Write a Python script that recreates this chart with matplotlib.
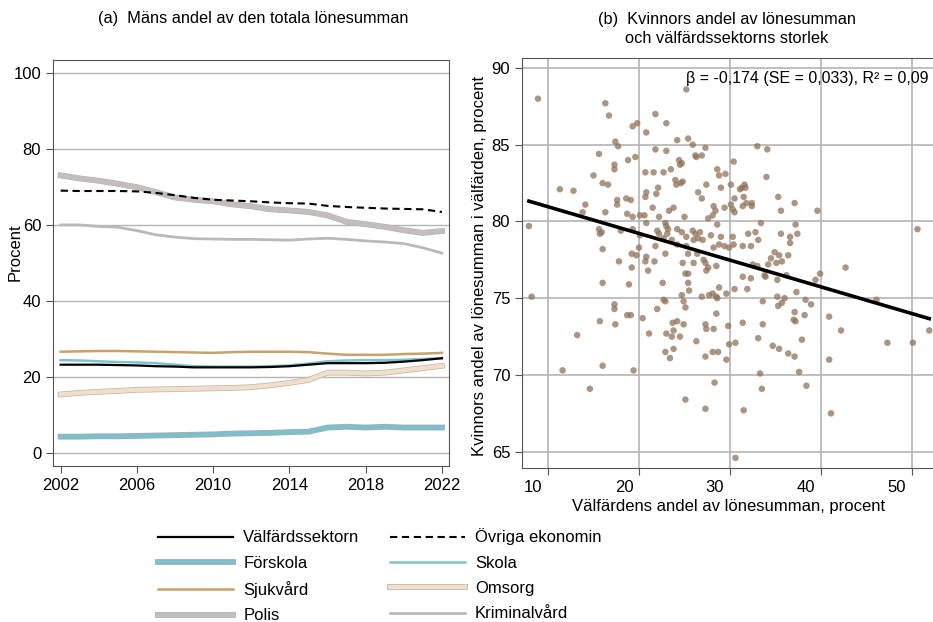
import matplotlib
matplotlib.use("Agg")
import matplotlib.pyplot as plt
import matplotlib.patheffects as pe
import matplotlib.transforms as mtransforms
import numpy as np

plt.rcParams['font.family'] = ['Liberation Sans', 'DejaVu Sans']
plt.rcParams['font.size'] = 11.5

# ---- panel (a): men's share of total wage sum, percent ----
years = list(range(2002, 2023))
valfard = [23.3, 23.3, 23.3, 23.2, 23.1, 22.9, 22.8, 22.6, 22.6, 22.6, 22.6,
           22.7, 22.9, 23.3, 23.7, 23.7, 23.7, 23.8, 24.1, 24.5, 25.0]
ovriga = [69.0, 68.9, 68.9, 68.9, 68.8, 68.4, 67.8, 67.1, 66.6, 66.4, 66.2,
          65.9, 65.7, 65.6, 65.0, 64.7, 64.5, 64.3, 64.2, 64.1, 63.4]
forskola = [4.4, 4.4, 4.5, 4.5, 4.6, 4.7, 4.8, 4.9, 5.0, 5.2, 5.3,
            5.4, 5.6, 5.7, 6.8, 7.0, 6.8, 7.0, 6.8, 6.8, 6.8]
skola = [24.5, 24.4, 24.2, 24.0, 23.9, 23.7, 23.3, 22.9, 22.8, 22.8, 22.8,
         22.9, 23.1, 23.6, 24.2, 24.4, 24.5, 24.5, 24.6, 24.8, 25.0]
sjukvard = [26.7, 26.8, 26.9, 26.9, 26.8, 26.7, 26.6, 26.5, 26.4, 26.6, 26.7,
            26.7, 26.7, 26.6, 26.2, 25.9, 25.9, 25.9, 26.1, 26.2, 26.4]
omsorg = [15.5, 15.9, 16.2, 16.4, 16.7, 16.8, 16.9, 17.0, 17.1, 17.2, 17.4,
          17.9, 18.5, 19.3, 21.2, 21.2, 21.0, 21.2, 21.8, 22.4, 23.0]
polis = [73.0, 72.2, 71.6, 70.8, 69.9, 68.6, 67.2, 66.6, 66.2, 65.4, 64.9,
         64.1, 63.8, 63.4, 62.5, 60.8, 60.2, 59.5, 58.6, 57.9, 58.4]
kriminalvard = [60.0, 60.0, 59.6, 59.4, 58.5, 57.4, 56.8, 56.4, 56.3, 56.2, 56.2,
                56.1, 56.0, 56.3, 56.5, 56.2, 55.8, 55.5, 55.1, 54.0, 52.6]

# ---- panel (b): welfare share of wage sum vs women's share in welfare ----
welfare_share = [
    8.9, 16.3, 16.7, 21.8, 25.2, 19.8, 19.3, 23.0, 20.8, 17.4, 17.7, 24.2, 25.4, 25.9, 27.3,
    21.8, 23.0, 15.6, 18.8, 19.6, 17.3, 17.3, 24.4, 24.5, 24.7, 26.2, 26.3, 26.9, 20.7, 21.6,
    22.7, 23.5, 15.0, 16.0, 16.6, 24.0, 24.1, 24.6, 24.8, 27.4, 28.6, 28.8, 29.5, 29.0, 11.3,
    12.8, 20.8, 22.1, 21.9, 14.1, 17.6, 17.6, 18.6, 19.1, 20.7, 26.5, 26.9, 13.8, 16.3, 18.7,
    19.3, 20.1, 20.6, 21.5, 23.3, 23.8, 22.2, 25.0, 27.6, 28.1, 28.2, 28.4, 29.4, 7.9,
    15.6, 15.9, 15.7, 18.0, 16.0, 20.8, 19.3, 20.1, 22.0, 22.2, 22.9, 23.0, 23.2, 23.1, 24.2,
    24.7, 25.2, 25.9, 26.2, 26.7, 26.0, 26.5, 27.0, 27.9, 28.6, 29.0, 28.2, 28.8, 29.4, 22.7,
    23.6, 24.2, 25.2, 25.4, 26.4, 27.1, 20.0, 19.2, 19.7, 20.8, 21.8, 22.9, 17.8, 20.7, 21.7,
    24.8, 26.0, 27.3,
    19.2, 21.0, 25.1, 25.4, 27.4, 27.6, 28.5, 16.0, 18.9, 22.6, 25.4, 25.5, 28.8, 8.2, 24.7,
    22.7, 22.9, 24.9, 25.1, 26.9, 27.7, 28.1, 28.5, 28.6, 29.6, 17.3, 17.3, 22.0, 28.5, 18.7,
    19.1, 20.4, 15.7, 17.4, 23.7, 24.2, 24.9, 27.3, 27.4, 28.2, 29.8, 23.8, 23.0, 23.6, 24.5,
    21.1, 13.2, 26.3, 29.9, 22.9, 23.8, 23.4, 27.3, 28.1, 28.7, 29.6, 11.6, 16.0, 19.4, 28.3,
    14.6, 25.1, 27.3,
    33.0, 34.1, 30.4, 34.0, 30.1, 31.1, 31.3, 31.6, 31.7, 31.5, 30.5, 30.1, 30.3, 30.5, 31.4,
    31.8, 32.4, 32.4, 35.3, 35.6, 37.1, 39.6, 33.4, 37.2, 50.6, 30.3, 32.0, 32.8, 33.1, 35.6,
    36.6, 37.4, 36.6, 29.9, 30.4, 31.4, 32.3, 34.9, 34.5, 35.4, 36.4,
    32.5, 33.0, 34.2, 35.1, 35.7, 42.7, 39.9, 39.4, 31.4, 32.3, 33.8, 33.9, 35.2, 36.2, 30.5,
    31.9, 37.3, 33.6, 35.2, 36.0, 35.7, 35.3, 38.3, 38.9, 46.1, 37.1, 37.0, 37.2, 38.2, 40.9,
    31.4, 33.6, 42.2, 51.9, 33.1, 37.9, 30.6, 34.7, 35.4, 36.4, 37.1, 47.3, 50.1, 40.9, 37.6,
    33.3, 33.5, 38.4, 31.5, 41.1, 30.6,
]
women_share = [
    88.0, 87.7, 86.9, 87.0, 88.6, 86.4, 86.2, 86.4, 85.8, 85.2, 84.9, 85.3, 85.4, 85.0, 84.8,
    84.7, 84.6, 84.4, 84.0, 84.2, 83.7, 83.4, 84.0, 83.7, 83.8, 84.3, 84.2, 84.3, 83.2, 83.2,
    83.2, 83.4, 83.0, 82.5, 82.4, 82.7, 82.4, 82.5, 82.6, 82.4, 83.4, 83.0, 83.1, 82.2, 82.1,
    82.0, 81.9, 82.2, 81.8, 81.1, 81.4, 81.1, 81.5, 81.4, 81.6, 81.9, 81.5, 80.6, 80.6, 80.5,
    80.3, 80.4, 80.4, 80.9, 80.7, 80.9, 80.3, 80.3, 80.2, 80.4, 81.0, 80.7, 80.9, 79.7,
    79.5, 79.3, 79.2, 79.4, 78.2, 79.9, 79.5, 79.1, 79.4, 79.2, 79.9, 79.7, 79.5, 79.2, 79.5,
    79.3, 79.0, 79.4, 79.2, 79.3, 78.8, 78.9, 78.8, 79.1, 79.8, 79.0, 78.3, 78.5, 78.4, 78.9,
    78.8, 78.5, 78.4, 77.9, 77.9, 77.5, 78.3, 77.9, 77.8, 77.7, 78.4, 77.9, 77.4, 77.4, 77.4,
    77.3, 77.3, 77.3,
    77.0, 76.8, 76.6, 76.6, 76.8, 77.0, 77.1, 76.0, 75.9, 76.0, 76.0, 75.5, 75.7, 75.1, 75.2,
    74.9, 74.8, 74.8, 74.4, 75.1, 75.2, 75.3, 75.1, 75.0, 75.3, 74.6, 74.3, 74.3, 74.0, 73.9,
    73.9, 73.7, 73.5, 73.3, 73.4, 73.5, 73.3, 73.3, 73.0, 73.0, 73.2, 72.9, 72.7, 72.5, 72.5,
    72.7, 72.6, 72.2, 72.0, 71.5, 71.7, 71.1, 71.2, 71.5, 71.5, 71.0, 70.3, 70.6, 70.3, 69.5,
    69.1, 68.4, 67.8,
    84.9, 84.7, 83.9, 82.9, 82.4, 82.1, 82.2, 82.4, 82.2, 81.6, 81.5, 81.1, 80.8, 80.6, 81.0,
    81.2, 81.2, 81.0, 81.6, 80.7, 81.2, 80.7, 79.9, 79.8, 79.5, 79.0, 79.2, 79.3, 78.8, 79.2,
    79.0, 79.2, 78.6, 78.3, 78.5, 78.4, 78.4, 78.0, 77.6, 77.8, 77.8,
    77.2, 77.1, 77.2, 77.3, 77.4, 77.0, 76.6, 76.2, 76.4, 76.3, 76.5, 76.4, 76.2, 76.5, 75.6,
    75.6, 75.4, 74.8, 75.1, 75.0, 74.7, 74.5, 74.9, 74.6, 74.9, 74.1, 73.6, 73.5, 73.9, 73.8,
    73.4, 73.3, 72.9, 72.9, 72.4, 72.3, 72.1, 71.9, 71.7, 71.4, 71.2, 72.1, 72.1, 71.0, 70.2,
    70.1, 69.1, 69.3, 67.7, 67.5, 64.6,
]
beta = -0.174
intercept = 82.7

GRID = "#b4b4b4"
SPINE = "#555555"

fig = plt.figure(figsize=(9.33, 6.22), dpi=100)
W, H = 933.0, 622.0
ax1 = fig.add_axes([53 / W, 1 - 466 / H, 396 / W, 406 / H])
ax2 = fig.add_axes([522 / W, 1 - 468 / H, 413 / W, 410 / H])

# panel a
ax1.plot(years, polis, color="#c2bebe", lw=3.6, label="Polis",
         path_effects=[pe.Stroke(linewidth=4.2, foreground="#b3afaf"), pe.Normal()])
ax1.plot(years, kriminalvard, color="#bcb8b8", lw=2.0, label="Kriminalvård")
ax1.plot(years, ovriga, color="black", lw=1.5, dashes=(3.5, 2.2), label="Övriga ekonomin")
ax1.plot(years, sjukvard, color="#c6a26c", lw=1.8, label="Sjukvård")
ax1.plot(years, skola, color="#7fc3ce", lw=1.8, label="Skola")
ax1.plot(years, valfard, color="black", lw=1.6, label="Välfärdssektorn")
ax1.plot(years, omsorg, color="#f0dfcb", lw=3.0, label="Omsorg",
         path_effects=[pe.Stroke(linewidth=4.2, foreground="#c8baab"), pe.Normal()])
ax1.plot(years, forskola, color="#7dc0cb", lw=3.0, label="Förskola",
         path_effects=[pe.Stroke(linewidth=4.2, foreground="#9db1b4"), pe.Normal()])

ax1.set_xlim(2001.6, 2022.37)
ax1.set_ylim(-3.3, 103.3)
ax1.set_xticks(range(2002, 2023, 4))
ax1.set_yticks(range(0, 101, 20))
ax1.grid(axis="y", color=GRID, lw=1.0)
ax1.set_axisbelow(True)
ax1.tick_params(color=SPINE, length=5, width=0.8, labelsize=12)
for s in ax1.spines.values():
    s.set_color(SPINE)
    s.set_linewidth(0.8)
fig.text(15 / W, 1 - 252 / H, "Procent", rotation=90, ha="center", va="center", fontsize=12)
fig.text(253 / W, 1 - 18 / H, "(a)  Mäns andel av den totala lönesumman",
         ha="center", va="center", fontsize=11.8)

# panel b
ax2.scatter(welfare_share, women_share, s=22, color="#8f735b", alpha=0.75,
            edgecolors="none", zorder=3)
fx = np.array([min(welfare_share), max(welfare_share)])
ax2.plot(fx, intercept + beta * fx, color="black", lw=2.6, zorder=4)
ax2.set_xlim(7.14, 52.53)
ax2.set_ylim(63.94, 90.65)
ax2.set_xticks(range(10, 51, 10))
ax2.set_yticks(range(65, 91, 5))
ax2.grid(color=GRID, lw=1.2)
ax2.set_axisbelow(True)
ax2.tick_params(color=SPINE, length=5, width=0.8, labelsize=12)
for s in ax2.spines.values():
    s.set_color(SPINE)
    s.set_linewidth(0.8)
ax2.spines["right"].set_visible(False)
shift = mtransforms.ScaledTranslation(-15 / 100, 0, fig.dpi_scale_trans)
for lab in ax2.get_xticklabels():
    lab.set_transform(lab.get_transform() + shift)
ax2.set_xlabel("Välfärdens andel av lönesumman, procent", fontsize=12, labelpad=3)
fig.text(480 / W, 1 - 266 / H, "Kvinnors andel av lönesumman i välfärden, procent",
         rotation=90, ha="center", va="center", fontsize=12)
fig.text(727 / W, 1 - 29 / H, "(b)  Kvinnors andel av lönesumman\noch välfärdssektorns storlek",
         ha="center", va="center", fontsize=11.8, linespacing=1.35)
fig.text(929 / W, 1 - 78 / H, "β = -0,174 (SE = 0,033), R² = 0,09",
         ha="right", va="center", fontsize=11.5)

# legend, row-wise order
hd, lb = ax1.get_legend_handles_labels()
order = ["Välfärdssektorn", "Förskola", "Sjukvård", "Polis",
         "Övriga ekonomin", "Skola", "Omsorg", "Kriminalvård"]
hmap = dict(zip(lb, hd))
fig.legend([hmap[k] for k in order], order, ncol=2, frameon=False,
           loc="upper left", bbox_to_anchor=(158 / W, 1 - 528.5 / H),
           borderpad=0, borderaxespad=0, handlelength=4.5, handletextpad=0.62,
           columnspacing=1.8, labelspacing=0.62, fontsize=12)

fig.savefig("out.png", dpi=100)
